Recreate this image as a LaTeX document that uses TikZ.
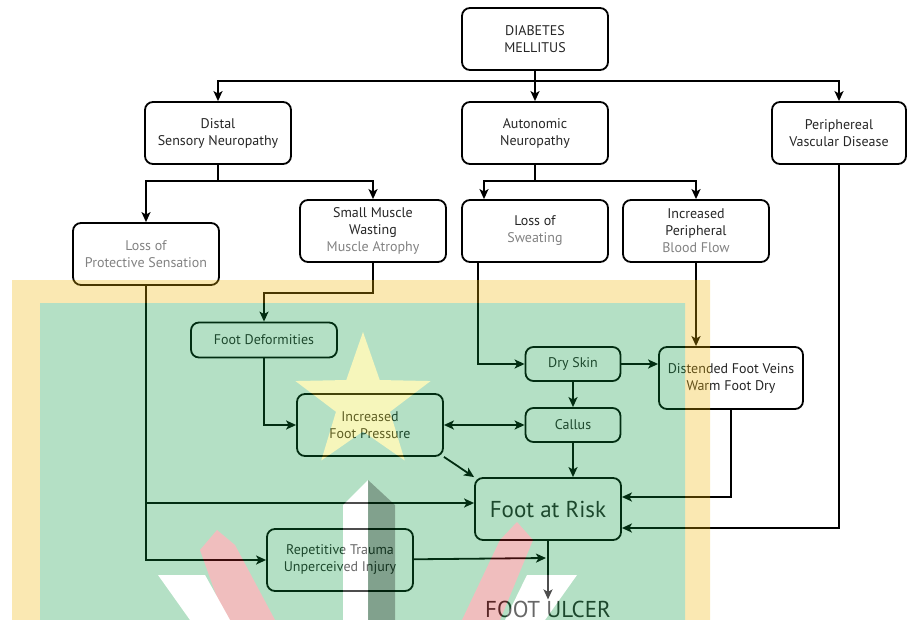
\documentclass[tikz,border=0pt]{standalone}
\usepackage{fontspec}
\setmainfont{PT Sans}
\usetikzlibrary{positioning,arrows.meta,shapes.geometric}
\definecolor{txtgray}{RGB}{130,130,130}
\definecolor{wmgreen}{RGB}{8,152,62}
\definecolor{wmyellow}{RGB}{240,180,0}
\definecolor{wmstar}{RGB}{225,225,30}
\definecolor{wmpink}{RGB}{205,40,40}
\tikzset{>={Stealth[length=10pt,width=9pt,inset=2.5pt]}}

\begin{document}
\begin{tikzpicture}[x=1pt,y=-1pt,on grid,
    box/.style={draw,line width=1.8pt,rounded corners=8pt,minimum width=146pt,
      minimum height=62pt,inner sep=2pt,align=center,text=black!85,
      font=\fontsize{14}{17}\selectfont},
    small/.style={box,minimum width=95pt,minimum height=34pt},
    arr/.style={line width=1.8pt,->},
    dbl/.style={line width=1.8pt,<->}]
        \useasboundingbox (0,0) rectangle (907,620);
        \node[box] (dm) at (535,39) {DIABETES\\MELLITUS};
        \node[box] (an) [below=94pt of dm] {Autonomic\\Neuropathy};
        \node[box] (dsn) [left=317pt of an] {Distal\\Sensory Neuropathy};
        \node[box,minimum width=134pt] (pvd) [right=304pt of an] {Periphereal\\Vascular Disease};
        \node[box] (ls) [below=98pt of an] {Loss of\\\textcolor{txtgray}{Sweating}};
        \node[box] (smw) [left=162pt of ls] {Small Muscle\\Wasting\\\textcolor{txtgray}{Muscle Atrophy}};
        \node[box] (ipb) [right=161pt of ls] {Increased\\Peripheral\\\textcolor{txtgray}{Blood Flow}};
        \node[box,text=txtgray] (lps) [below left=23pt and 227pt of smw] {Loss of\\Protective Sensation};
        \node[box,minimum height=35pt] (fd) [below right=86pt and 118pt of lps] {Foot Deformities};
        \node[box] (ifp) [below right=85pt and 106pt of fd] {Increased\\Foot Pressure};
        \node[small] (ds) [below right=133pt and 38pt of ls] {Dry Skin};
        \node[small] (ca) [below=61pt of ds] {Callus};
        \node[box,minimum width=144pt] (dfv) [below right=14pt and 158pt of ds] {Distended Foot Veins\\Warm Foot Dry};
        \node[box,font=\fontsize{23}{26}\selectfont] (far) [below left=84pt and 25pt of ca] {Foot at Risk};
        \node[box] (rti) [below left=51pt and 208pt of far] {Repetitive Trauma\\Unperceived Injury};
        \node[anchor=base,inner sep=1pt,text=black!85,font=\fontsize{23}{26}\selectfont] (fu) at (548,617) {FOOT ULCER};
        % branch points
        \coordinate (dmb) at (535,81);
        \coordinate (dsnb) at (218,181);
        \coordinate (anb) at (535,181);
        \coordinate (lpsb) at (146,503);
        \coordinate (rtie) at (546,558);
        \draw[line width=1.8pt] (dm) -- (dmb);
        \draw[arr] (dmb) -| (dsn);
        \draw[arr] (dmb) -- (an);
        \draw[arr] (dmb) -| (pvd);
        \draw[line width=1.8pt] (dsn) -- (dsnb);
        \draw[arr] (dsnb) -| (lps);
        \draw[arr] (dsnb) -| (smw);
        \draw[line width=1.8pt] (an) -- (anb);
        \draw[arr] (anb) -| ([xshift=-51pt]ls.north);
        \draw[arr] (anb) -| (ipb);
        \draw[arr] (lps) |- (rti);
        \draw[arr] (lpsb) -- (lpsb -| far.west);
        \draw[arr] (smw.south) -- ++(0,30) -| (fd);
        \draw[arr] (fd) |- (ifp);
        \draw[arr] ([xshift=-57pt]ls.south) |- (ds);
        \draw[arr] (ipb.south) -- (ipb.south |- dfv.north);
        \draw[arr] (ds.east) -- (ds.east -| dfv.west);
        \draw[arr] (ds) -- (ca);
        \draw[dbl] (ifp) -- (ca);
        \draw[arr] (ca) -- (ca |- far.north);
        \draw[arr] (ifp.south east) -- (far.north west);
        \draw[arr] (dfv) |- ([yshift=12pt]far.east);
        \draw[arr] (pvd) |- ([yshift=-19pt]far.east);
        \draw[arr] (rti) -- (rtie);
        \draw[arr] (far) -- (fu);
        % background mark
        \begin{scope}[transparency group,opacity=0.3]
            \fill[wmyellow] (12,280) rectangle (710,620);
            \fill[wmgreen] (40,303) rectangle (685,620);
            \node[star,star points=5,star point ratio=2.5,minimum size=142pt,inner sep=0pt,fill=wmstar] (wmstar) at (363,403) {};
            \fill[wmpink] (200,550) -- (217,530) -- (235,545) -- (275,620) -- (225,620) -- cycle;
            \fill[wmpink] (500,540) -- (517,522) -- (533,540) -- (500,620) -- (462,620) -- cycle;
            \fill[white] (158,575) -- (205,575) -- (230,620) -- (190,620) -- cycle;
            \fill[white] (527,575) -- (577,575) -- (545,620) -- (505,620) -- cycle;
            \fill[white] (343,620) -- (343,505) -- (368,480) -- (368,620) -- cycle;
        \end{scope}
        \fill[black,fill opacity=0.28] (368,480) -- (395,505) -- (395,620) -- (368,620) -- cycle;
\end{tikzpicture}
\end{document}
